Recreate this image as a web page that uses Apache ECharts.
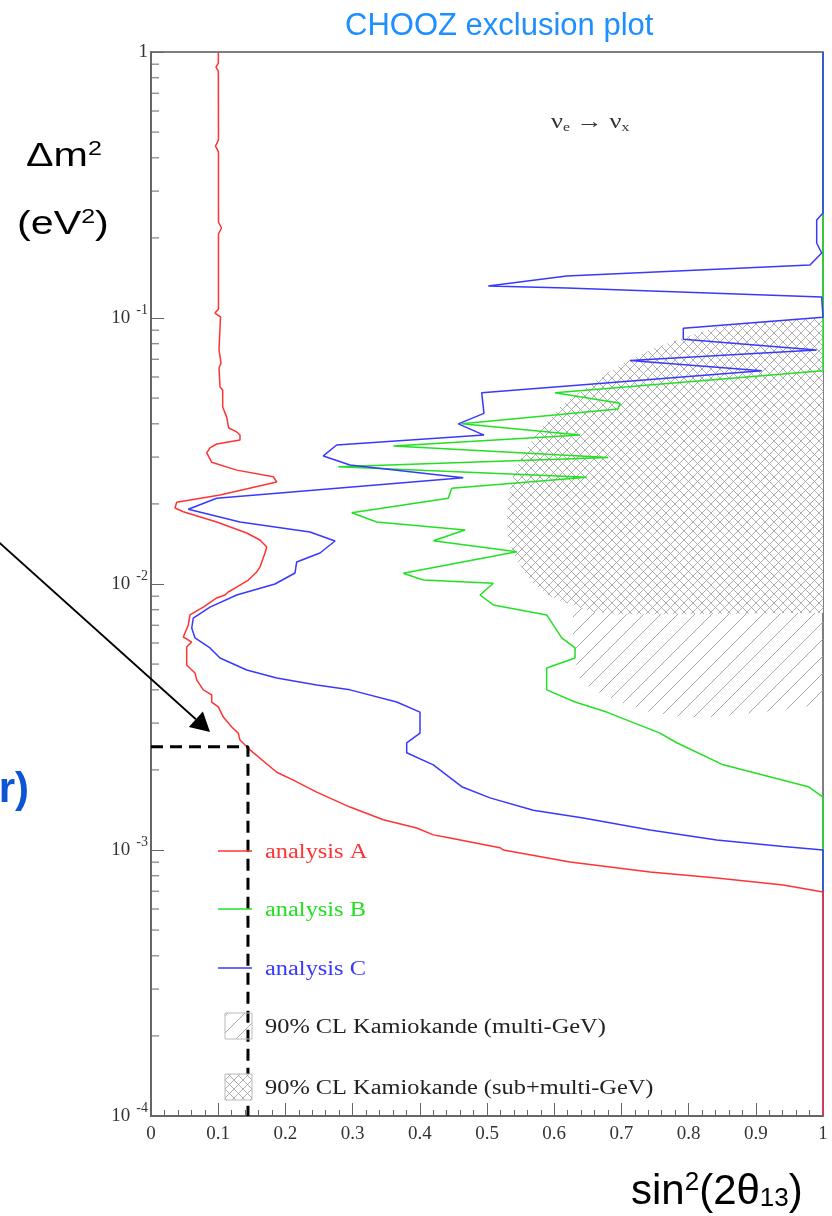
<!DOCTYPE html>
<html><head><meta charset="utf-8">
<script src="https://cdn.jsdelivr.net/npm/echarts@6/dist/echarts.min.js"></script>
<style>html,body{margin:0;padding:0;background:#fff}#c{width:832px;height:1216px}</style>
</head><body><div id="c"></div>
<script>
// ---- data (x = sin^2(2θ13), y = Δm² in eV²) ----
const analysisA = [
[0.1002,1],[0.1002,0.909],[0.0967,0.878],[0.1002,0.848],[0.1004,0.467],[0.0960,0.443],[0.1004,0.421],[0.1004,0.2296],[0.1049,0.2180],[0.1004,0.2069],[0.1004,0.1081],[0.0952,0.1044],[0.1034,0.1009],[0.1012,0.0758],[0.1042,0.0677],[0.1012,0.0649],[0.1027,0.0550],[0.1067,0.0536],[0.1067,0.0463],[0.1126,0.0424],[0.1156,0.0386],[0.1275,0.0373],[0.1324,0.0363],[0.1324,0.0348],[0.0978,0.0336],[0.0878,0.0325],[0.0829,0.0311],[0.0903,0.0287],[0.1275,0.0268],[0.1820,0.0253],[0.1871,0.0242],[0.1027,0.0216],[0.0382,0.0203],[0.0357,0.0193],[0.0481,0.0187],[0.0978,0.0171],[0.1424,0.01555],[0.1622,0.01464],[0.1722,0.01377],[0.1696,0.01308],[0.1622,0.01159],[0.1573,0.01109],[0.1448,0.01035],[0.1275,0.00974],[0.1150,0.00933],[0.1101,0.00909],[0.0978,0.00886],[0.0778,0.00819],[0.0580,0.00765],[0.0555,0.00701],[0.0481,0.00632],[0.0606,0.00605],[0.0531,0.00580],[0.0531,0.00496],[0.0655,0.00463],[0.0680,0.00436],[0.0778,0.00400],[0.0903,0.00383],[0.0903,0.00360],[0.1002,0.00345],[0.1076,0.00316],[0.1201,0.00290],[0.1299,0.00275],[0.1324,0.00259],[0.1473,0.00238],[0.1871,0.00196],[0.2118,0.00183],[0.2466,0.00165],[0.2961,0.00145],[0.3457,0.00130],[0.3954,0.00121],[0.4201,0.00114],[0.4449,0.00111],[0.5193,0.00102],[0.5243,0.00100],[0.6235,0.000902],[0.7426,0.000827],[0.8418,0.000785],[0.9409,0.000738],[1,0.000695],[1,0.0001]
];
const analysisB = [
[1,1],[1,0.0634],[0.6012,0.0524],[0.6979,0.0478],[0.6949,0.0455],[0.4624,0.0400],[0.6384,0.0363],[0.3606,0.0330],[0.6805,0.0299],[0.2787,0.0276],[0.6484,0.0252],[0.4475,0.0229],[0.4424,0.0210],[0.2987,0.01854],[0.3359,0.0171],[0.4673,0.01596],[0.4201,0.01455],[0.5442,0.01322],[0.3754,0.01097],[0.4052,0.01035],[0.5094,0.01006],[0.4896,0.00909],[0.5094,0.00834],[0.5888,0.00765],[0.6112,0.00627],[0.6310,0.00575],[0.6310,0.00527],[0.5888,0.00483],[0.5888,0.00400],[0.6310,0.00360],[0.6781,0.00330],[0.7574,0.00275],[0.7823,0.00253],[0.8516,0.00209],[0.9781,0.00173],[1,0.00158],[1,0.0001]
];
const analysisC = [
[1,1],[1,0.2482],[0.9906,0.2336],[0.9906,0.1914],[0.998,0.1755],[0.9807,0.1582],[0.6186,0.1438],[0.5019,0.1319],[0.6186,0.1297],[0.998,0.1199],[1,0.1006],[0.7921,0.0915],[0.7921,0.0832],[0.9906,0.0758],[0.7128,0.0692],[0.9088,0.0634],[0.4921,0.0524],[0.4955,0.0438],[0.4573,0.0400],[0.4955,0.0363],[0.2763,0.0333],[0.2564,0.0303],[0.2961,0.0280],[0.4647,0.0251],[0.0978,0.0210],[0.0555,0.0191],[0.1324,0.0171],[0.2366,0.01569],[0.2738,0.01451],[0.2515,0.01308],[0.2168,0.01210],[0.2143,0.01100],[0.1845,0.0100],[0.1275,0.00909],[0.0878,0.00819],[0.0629,0.00745],[0.0606,0.00683],[0.0655,0.00627],[0.0878,0.00575],[0.1027,0.00527],[0.1424,0.00475],[0.1871,0.00443],[0.2466,0.00417],[0.2961,0.00400],[0.3656,0.00360],[0.4003,0.00330],[0.4003,0.00275],[0.3805,0.00253],[0.3805,0.00232],[0.4201,0.00209],[0.4449,0.00187],[0.4624,0.00173],[0.5045,0.00157],[0.5689,0.00141],[0.6433,0.00132],[0.7426,0.00119],[0.8418,0.00109],[0.9409,0.00103],[1,0.00100],[1,0.0001]
];
const kamiokandeSubMulti = [
[1,0.1],[0.9375,0.0983],[0.8914,0.0966],[0.8423,0.0925],[0.7917,0.0841],[0.7530,0.0778],[0.7128,0.0695],[0.6786,0.0621],[0.6429,0.0536],[0.6086,0.0463],[0.5789,0.0379],[0.5536,0.0311],[0.5387,0.0253],[0.5313,0.0207],[0.5298,0.0174],[0.5313,0.01464],[0.5446,0.01231],[0.5640,0.01035],[0.5938,0.00900],[0.6235,0.00840],[0.6533,0.00790],[0.6935,0.00770],[0.7917,0.00770],[1,0.00780]
];
const kamiokandeMulti = [
[0.628,0.00900],[1,0.00900],[1,0.00357],[0.9702,0.00345],[0.9405,0.00336],[0.8914,0.00327],[0.8423,0.00316],[0.7917,0.00316],[0.7426,0.00330],[0.7024,0.00357],[0.6577,0.00400],[0.6354,0.00447],[0.628,0.00616]
];
const dashedGuide = [[0,0.002446],[0.1443,0.002446],[0.1443,0.0001]];
const arrowFrom = [-0.2321,0.01479];
const arrowTo = [0.0878,0.002778];
const yMinorTicks = [2e-4,3e-4,4e-4,5e-4,6e-4,7e-4,8e-4,9e-4,2e-3,3e-3,4e-3,5e-3,6e-3,7e-3,8e-3,9e-3,2e-2,3e-2,4e-2,5e-2,6e-2,7e-2,8e-2,9e-2,0.2,0.3,0.4,0.5,0.6,0.7,0.8,0.9];
const legendLabels = ['analysis A','analysis B','analysis C','90% CL Kamiokande (multi-GeV)','90% CL Kamiokande (sub+multi-GeV)'];

// ---- styles ----
const RED='#ff3333', GREEN='#22e022', BLUE='#3838ff';
const SERIF='"Liberation Serif","Times New Roman",serif';
const SANS='"Liberation Sans",Arial,sans-serif';
function makePattern(size, bg, draw){
  const c=document.createElement('canvas'); c.width=size; c.height=size;
  const g=c.getContext('2d');
  if(bg){g.fillStyle=bg; g.fillRect(0,0,size,size);}
  draw(g,size); return {image:c, repeat:'repeat'};
}
const singleHatch = makePattern(17, null, (g,s)=>{g.strokeStyle='#a8a8a8';g.lineWidth=1;g.beginPath();g.moveTo(-2,s+2);g.lineTo(s+2,-2);g.stroke();});
const crossHatch = makePattern(9, '#ffffff', (g,s)=>{g.strokeStyle='#9a9a9a';g.lineWidth=0.8;g.beginPath();g.moveTo(-1,s+1);g.lineTo(s+1,-1);g.moveTo(-1,-1);g.lineTo(s+1,s+1);g.stroke();});

function polygonSeries(name, pts, fill){
  return {type:'custom', name, data: pts, encode:{x:0,y:1}, z:1, silent:true,
    renderItem:function(params, api){
      if(params.dataIndex!==0) return null;
      return {type:'polygon', shape:{points: pts.map(p=>api.coord(p))}, style:{fill: fill, stroke:null}};
    }};
}
function lineSeries(name, data, color){
  return {type:'line', name, data, symbol:'none', showSymbol:false, z:5, clip:false,
    lineStyle:{color, width:1.5}, itemStyle:{color}, animation:false};
}

const chart = echarts.init(document.getElementById('c'), null, {renderer:'canvas'});
const option = {
  animation:false,
  backgroundColor:'#fff',
  title:{text:'CHOOZ exclusion plot', left:340, top:6, textStyle:{color:'#1f8fff', fontSize:31, fontWeight:'normal', fontFamily:SANS}},
  grid:{left:151, right:9, top:52, bottom:100, show:true, borderColor:'#555', borderWidth:1.5},
  xAxis:{type:'value', min:0, max:1, interval:0.1,
    axisLine:{lineStyle:{color:'#666', width:2}},
    axisTick:{inside:true, length:13, lineStyle:{color:'#666', width:1}},
    minorTick:{show:true, splitNumber:5, length:6, lineStyle:{color:'#666', width:1}},
    splitLine:{show:false},
    axisLabel:{margin:9, color:'#333', fontFamily:SERIF, fontSize:19,
      formatter:v=> (Math.abs(v)<1e-9?'0':(Math.abs(v-1)<1e-9?'1':v.toFixed(1)))}},
  yAxis:{type:'log', logBase:10, min:1e-4, max:1,
    axisLine:{lineStyle:{color:'#666', width:2}},
    axisTick:{inside:true, length:13, lineStyle:{color:'#666', width:1}},
    minorTick:{show:false}, splitLine:{show:false},
    axisLabel:{margin:3, formatter:v=>{ if(Math.abs(v-1)<1e-9) return '{n|1}'; const e=Math.round(Math.log10(v)); return '{n|10}{e|'+e+'}'; },
      rich:{n:{fontFamily:SERIF, fontSize:19, color:'#333'}, e:{fontFamily:SERIF, fontSize:14, color:'#333', padding:[0,0,16,6]}}}},
  series:[
    polygonSeries('Kamiokande multi-GeV', kamiokandeMulti, singleHatch),
    polygonSeries('Kamiokande sub+multi-GeV', kamiokandeSubMulti, crossHatch),
    {type:'custom', name:'minor ticks', data: yMinorTicks.map(v=>[0,v]), encode:{x:0,y:1}, z:6, silent:true,
      renderItem:function(params, api){ const p=api.coord([0, api.value(1)]);
        return {type:'line', shape:{x1:p[0], y1:p[1], x2:p[0]+8, y2:p[1]}, style:{stroke:'#666', lineWidth:1}}; }},
    lineSeries('analysis B', analysisB, GREEN),
    lineSeries('analysis C', analysisC, BLUE),
    lineSeries('analysis A', analysisA, RED),
    {type:'line', name:'guide', data: dashedGuide, symbol:'none', z:7, clip:false,
      lineStyle:{color:'#000', width:3, type:[12,7]}}
  ]
};
chart.setOption(option);

// ---- annotations & legend ----
const s = chart.convertToPixel({gridIndex:0}, arrowFrom);
const t = chart.convertToPixel({gridIndex:0}, arrowTo);
const dx=t[0]-s[0], dy=t[1]-s[1], L=Math.hypot(dx,dy), ux=dx/L, uy=dy/L;
const hl=19, hw=10.5;
const bx=t[0]-ux*hl, by=t[1]-uy*hl;
const graphics = [
  {type:'line', shape:{x1:s[0],y1:s[1],x2:bx,y2:by}, style:{stroke:'#000', lineWidth:1.8}, z:100},
  {type:'polygon', shape:{points:[t,[bx-uy*hw,by+ux*hw],[bx+uy*hw,by-ux*hw]]}, style:{fill:'#000'}, z:100},
  {type:'text', x:26, y:157, scaleX:1.25, style:{text:'{a|Δm}{s|2}', rich:{a:{font:'33px '+SANS, fill:'#000'}, s:{font:'20px '+SANS, fill:'#000', padding:[0,0,15,0]}}, verticalAlign:'middle'}, z:100},
  {type:'text', x:17, y:225, scaleX:1.25, style:{text:'{a|(eV}{s|2}{a|)}', rich:{a:{font:'33px '+SANS, fill:'#000'}, s:{font:'20px '+SANS, fill:'#000', padding:[0,0,15,0]}}, verticalAlign:'middle'}, z:100},
  {type:'text', x:631, y:1192, style:{text:'{a|sin}{s|2}{a|(2θ}{b|13}{a|)}', rich:{a:{font:'42px '+SANS, fill:'#000'}, s:{font:'26px '+SANS, fill:'#000', padding:[0,0,18,0]}, b:{font:'26px '+SANS, fill:'#000', padding:[14,0,0,0]}}, verticalAlign:'middle'}, z:100},
  {type:'text', x:29, y:790, style:{text:'r)', font:'bold 42px '+SANS, fill:'#0b55d6', align:'right', verticalAlign:'middle'}, z:100},
  {type:'text', x:551, y:122, scaleX:1.2, style:{text:'{a|ν}{s|e}{a| → ν}{s|x}', rich:{a:{font:'22px '+SERIF, fill:'#333'}, s:{font:'13px '+SERIF, fill:'#333', padding:[11,0,0,0]}}, verticalAlign:'middle'}, z:100}
];
// legend
const legRows = [
  {y:851, color:RED, kind:'line'},
  {y:909, color:GREEN, kind:'line'},
  {y:968, color:BLUE, kind:'line'},
  {y:1026, color:'#222', kind:'single'},
  {y:1087, color:'#222', kind:'cross'}
];
legRows.forEach((r,i)=>{
  if(r.kind==='line'){
    graphics.push({type:'line', shape:{x1:218,y1:r.y,x2:252,y2:r.y}, style:{stroke:r.color, lineWidth:1.5}, z:100});
  } else {
    graphics.push({type:'rect', shape:{x:225,y:r.y-13,width:27,height:26}, style:{fill: r.kind==='single'?singleHatch:crossHatch, stroke:'#bbb', lineWidth:1}, z:100});
  }
  graphics.push({type:'text', x:265, y:r.y+2, scaleX:1.22, style:{text:legendLabels[i], font:'20px '+SERIF, fill:r.color, verticalAlign:'middle'}, z:100});
});
chart.setOption({graphic:graphics});
</script></body></html>
